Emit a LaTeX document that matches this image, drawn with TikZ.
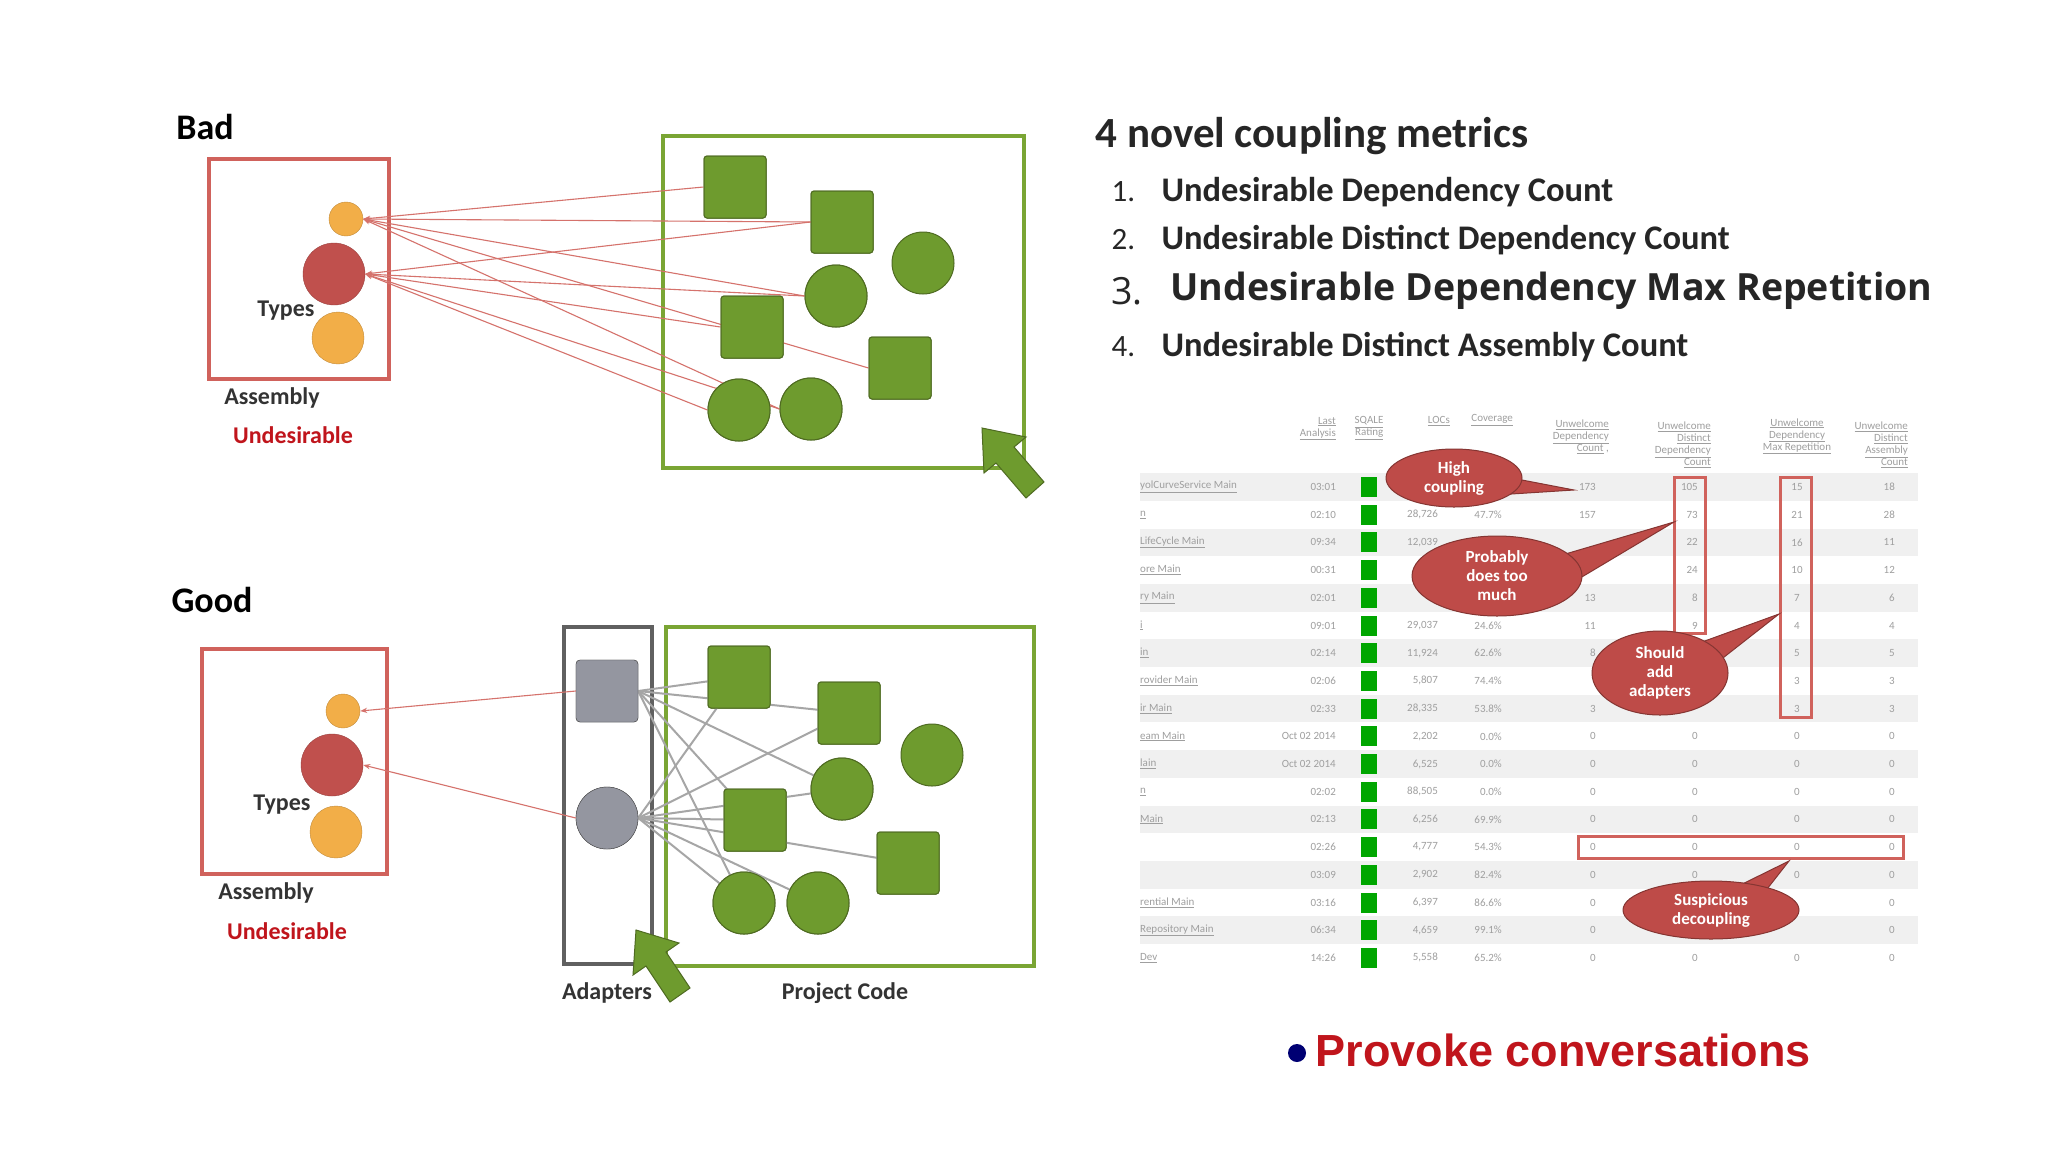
\documentclass[tikz,border=0pt]{standalone}
\usepackage{fontspec}
\setmainfont{Carlito}
\newfontfamily\osans{Open Sans}
\newfontfamily\arialb{Liberation Sans}
\usetikzlibrary{shapes.geometric}
\definecolor{gfill}{HTML}{6E9B2E}
\definecolor{gdraw}{HTML}{4F6B22}
\definecolor{gbox}{HTML}{7AA534}
\definecolor{rbox}{HTML}{D0625C}
\definecolor{rcirc}{HTML}{C0504D}
\definecolor{ocirc}{HTML}{F2AE48}
\definecolor{callout}{HTML}{BE4B48}
\definecolor{grayel}{HTML}{9496A0}
\definecolor{rtext}{HTML}{C0151C}
\tikzset{
 sq/.style={draw=gdraw,fill=gfill,minimum size=62pt,rounded corners=3pt,line width=1pt,inner sep=0},
 ci/.style={circle,draw=gdraw,fill=gfill,minimum size=#1,line width=1pt,inner sep=0},
 red/.style={circle,draw=rcirc!80!black,fill=rcirc,minimum size=#1,inner sep=0},
 ora/.style={circle,draw=ocirc!80!black,fill=ocirc,minimum size=#1,inner sep=0},
 abox/.style={draw=rbox,line width=3.5pt},
 pbox/.style={draw=gbox,line width=4pt},
 lbl/.style={font=\bfseries\fontsize{24}{28}\selectfont,text=black!80},
 ulbl/.style={font=\bfseries\fontsize{24}{28}\selectfont,text=rtext},
 dep/.style={draw=rbox!90,line width=1.1pt,-{Stealth[length=7pt]}},
 gl/.style={draw=gray!70,line width=2pt},
 tx/.style={font=\fontsize{11}{12}\selectfont,text=gray!75,inner sep=0},
 hd/.style={font=\fontsize{11}{12}\selectfont,text=gray!75,inner sep=0,align=right},
 co/.style={fill=callout,draw=callout!70!black,line width=1pt},
 cot/.style={font=\bfseries\fontsize{17}{19}\selectfont,text=white,align=center},
 item/.style={font=\bfseries\fontsize{34.5}{38}\selectfont,anchor=west,text=black!85},
}
\usetikzlibrary{arrows.meta}
\begin{document}
\begin{tikzpicture}[x=1pt,y=-1pt]
\fill[white] (0,0) rectangle (2048,1152);
\useasboundingbox (0,0) rectangle (2048,1152);
% ---------- BAD ----------
\node[font=\bfseries\fontsize{36}{40}\selectfont] (bad) at (205,127) {Bad};
\draw[abox] (209,159) rectangle (389,379);
\node[ora=34pt] (bo1) at (346,219) {};
\node[red=62pt] (br) at (334,274) {};
\node[ora=52pt] (bo2) at (338,338) {};
\node[lbl] (bt) at (286,311) {Types};
\node[lbl] (ba) at (272,398) {Assembly};
\node[ulbl] (bu) at (293,435) {Undesirable};
\draw[pbox] (663,136) rectangle (1024,468);
\node[sq] (s1) at (735,187) {};
\node[sq] (s2) at (842,222) {};
\node[sq] (s3) at (752,327) {};
\node[sq] (s4) at (900,368) {};
\node[ci=62pt] (c1) at (923,263) {};
\node[ci=62pt] (c2) at (836,296) {};
\node[ci=62pt] (c3) at (739,410) {};
\node[ci=62pt] (c4) at (811,409) {};
\foreach \s in {s1,s2,c2,s4,c4} \draw[dep] (\s.west) -- (bo1.east);
\foreach \s in {s2,c2,s3,c3,c4} \draw[dep] (\s.west) -- (br.east);
\node[sq] at (s1) {};\node[sq] at (s2) {};\node[sq] at (s3) {};\node[sq] at (s4) {};
\node[ci=62pt] at (c2) {};\node[ci=62pt] at (c3) {};\node[ci=62pt] at (c4) {};
\fill[gfill,draw=gdraw,line width=1pt] (1044,482)--(1014,447)--(1026,437)--(982,428)--(984,473)--(996,463)--(1026,498)--cycle;
% ---------- GOOD ----------
\node[font=\bfseries\fontsize{36}{40}\selectfont] (good) at (212,600) {Good};
\draw[abox] (202,649) rectangle (387,874);
\node[ora=34pt] (go1) at (343,711) {};
\node[red=62pt] (gr) at (332,765) {};
\node[ora=52pt] (go2) at (336,832) {};
\node[lbl] (gt) at (282,805) {Types};
\node[lbl] (ga) at (266,893) {Assembly};
\node[ulbl] (gu) at (287,931) {Undesirable};
\draw[draw=gray!75!black,line width=3.5pt] (564,627) rectangle (652,964);
\draw[pbox] (666,627) rectangle (1034,966);
\node[sq] (t1) at (739,677) {};
\node[sq] (t2) at (849,713) {};
\node[sq] (t3) at (755,820) {};
\node[sq] (t4) at (908,863) {};
\node[ci=62pt] (d1) at (932,755) {};
\node[ci=62pt] (d2) at (842,789) {};
\node[ci=62pt] (d3) at (744,903) {};
\node[ci=62pt] (d4) at (818,903) {};
\node[draw=gray!60!black,fill=grayel,minimum size=62pt,rounded corners=4pt,inner sep=0] (ga1) at (607,691) {};
\node[circle,draw=gray!60!black,fill=grayel,minimum size=62pt,inner sep=0] (ga2) at (607,818) {};
\foreach \s in {t1,t2,d2,t3,d3} \draw[gl] (ga1.east) -- (\s.center);
\foreach \s in {t1,t2,d2,t3,t4,d3,d4} \draw[gl] (ga2.east) -- (\s.center);
\node[sq] at (t1) {};\node[sq] at (t2) {};\node[sq] at (t3) {};\node[sq] at (t4) {};
\node[ci=62pt] at (d2) {};\node[ci=62pt] at (d3) {};\node[ci=62pt] at (d4) {};
\node[draw=gray!60!black,fill=grayel,minimum size=62pt,rounded corners=4pt,inner sep=0] at (ga1) {};
\node[circle,draw=gray!60!black,fill=grayel,minimum size=62pt,inner sep=0] at (ga2) {};
\draw[dep] (ga1.west) -- (go1.east);
\draw[dep] (ga2.west) -- (gr.east);
\fill[gfill,draw=gdraw,line width=1pt] (690,988)--(666,952)--(679,943)--(636,930)--(633,975)--(646,966)--(670,1002)--cycle;
\node[lbl] (adl) at (607,993) {Adapters};
\node[lbl] (pcl) at (845,993) {Project Code};
% ---------- RIGHT TEXT ----------
\node[font=\bfseries\fontsize{43}{46}\selectfont,anchor=west,text=black!85] (title) at (1092,136) {4 novel coupling metrics};
\node[item,font=\fontsize{31}{34}\selectfont] (n1) at (1108,192) {1.};
\node[item] (i1) at (1158,192) {Undesirable Dependency Count};
\node[item,font=\fontsize{31}{34}\selectfont] (n2) at (1108,240) {2.};
\node[item] (i2) at (1158,240) {Undesirable Distinct Dependency Count};
\node[item,font=\osans\fontsize{37.5}{40}\selectfont] (n3) at (1108,291) {3.};
\node[item,font=\osans\bfseries\fontsize{37.5}{40}\selectfont] (i3) at (1167,291) {Undesirable Dependency Max Repetition};
\node[item,font=\fontsize{31}{34}\selectfont] (n4) at (1108,347) {4.};
\node[item] (i4) at (1158,347) {Undesirable Distinct Assembly Count};
% ---------- TABLE ----------
\node[hd,anchor=south east] (h1) at (1336,440) {\underline{Last}\\\underline{Analysis}};
\node[hd,anchor=south] (h2) at (1369,440) {\underline{SQALE}\\\underline{Rating}};
\node[hd,anchor=south east] (h3) at (1450,426) {\underline{LOCs}};
\node[hd,anchor=south east] (h4) at (1513,426) {\underline{Coverage}};
\node[hd,anchor=south east] (h5) at (1609,454) {\underline{Unwelcome}\\\underline{Dependency}\\\underline{Count} ,};
\node[hd,anchor=south east] (h6) at (1711,468) {\underline{Unwelcome}\\\underline{Distinct}\\\underline{Dependency}\\\underline{Count}};
\node[hd,anchor=south,align=center] (h7) at (1797,454) {\underline{Unwelcome}\\\underline{Dependency}\\\underline{Max Repetition}};
\node[hd,anchor=south east] (h8) at (1908,468) {\underline{Unwelcome}\\\underline{Distinct}\\\underline{Assembly}\\\underline{Count}};
\foreach \nm/\la/\lo/\cv/\da/\db/\dc/\dd [count=\i] in {
 {yolCurveService Main}/03:01/{}/{}/173/105/15/18,
 n/02:10/{28,726}/47.7\%/157/73/21/28,
 {LifeCycle Main}/09:34/{12,039}/{}/{}/22/16/11,
 {ore Main}/00:31/{}/{}/{}/24/10/12,
 {ry Main}/02:01/{}/{}/13/8/7/6,
 i/09:01/{29,037}/24.6\%/11/9/4/4,
 in/02:14/{11,924}/62.6\%/8/{}/5/5,
 {rovider Main}/02:06/{5,807}/74.4\%/{}/{}/3/3,
 {ir Main}/02:33/{28,335}/53.8\%/3/{}/3/3,
 {eam Main}/{Oct 02 2014}/{2,202}/0.0\%/0/0/0/0,
 {lain}/{Oct 02 2014}/{6,525}/0.0\%/0/0/0/0,
 n/02:02/{88,505}/0.0\%/0/0/0/0,
 {Main}/02:13/{6,256}/69.9\%/0/0/0/0,
 {}/02:26/{4,777}/54.3\%/0/0/0/0,
 {}/03:09/{2,902}/82.4\%/0/0/0/0,
 {rential Main}/03:16/{6,397}/86.6\%/0/{}/{}/0,
 {Repository Main}/06:34/{4,659}/99.1\%/0/{}/{}/0,
 {Dev}/14:26/{5,558}/65.2\%/0/0/0/0} {
 \pgfmathsetmacro\yy{487+27.7*(\i-1)}
 \ifodd\i \fill[gray!12] (1140,\yy-13.8) rectangle (1918,\yy+13.8);\fi
 \node[tx,anchor=west] (nm\i) at (1140,\yy) {\underline{\nm}};
 \node[tx,anchor=east] (la\i) at (1336,\yy) {\la};
 \fill[green!65!black] (1361,\yy-10) rectangle (1377,\yy+10);
 \node[tx,anchor=east] (lo\i) at (1438,\yy) {\lo};
 \node[tx,anchor=east] (cv\i) at (1502,\yy) {\cv};
 \node[tx,anchor=east] (da\i) at (1596,\yy) {\da};
 \node[tx,anchor=east] (db\i) at (1698,\yy) {\db};
 \node[tx] (dc\i) at (1797,\yy) {\dc};
 \node[tx,anchor=east] (dd\i) at (1895,\yy) {\dd};
}
\draw[rbox,line width=3pt] (1674,477) rectangle (1705,633);
\draw[rbox,line width=3pt] (1780,477) rectangle (1811,717);
\draw[rbox,line width=3pt] (1578,836) rectangle (1903,858);
% callouts
\coordinate (k1) at (1574,490);
\fill[co] (1470,470) -- (k1) -- (1480,496) -- cycle;
\node[ellipse,co,minimum width=136pt,minimum height=58pt,cot,inner sep=0] (cb1) at (1454,478) {High\\coupling};
\coordinate (k2) at (1674,522);
\fill[co] (1545,560) -- (k2) -- (1560,590) -- cycle;
\node[ellipse,co,minimum width=170pt,minimum height=80pt,cot,inner sep=0] (cb2) at (1497,576) {Probably\\does too\\much};
\coordinate (k3) at (1779,614);
\fill[co] (1680,650) -- (k3) -- (1705,672) -- cycle;
\node[ellipse,co,minimum width=136pt,minimum height=84pt,cot,inner sep=0] (cb3) at (1660,673) {Should\\add\\adapters};
\coordinate (k4) at (1789,861);
\fill[co] (1720,895) -- (k4) -- (1760,898) -- cycle;
\node[ellipse,co,minimum width=176pt,minimum height=58pt,cot,inner sep=0] (cb4) at (1711,910) {Suspicious\\decoupling};
% provoke
\fill[blue!45!black] (1297,1053) circle (9);
\node[anchor=west,font=\arialb\bfseries\fontsize{45}{50}\selectfont,text=rtext] (prov) at (1312,1050) {Provoke conversations};
\end{tikzpicture}
\end{document}
